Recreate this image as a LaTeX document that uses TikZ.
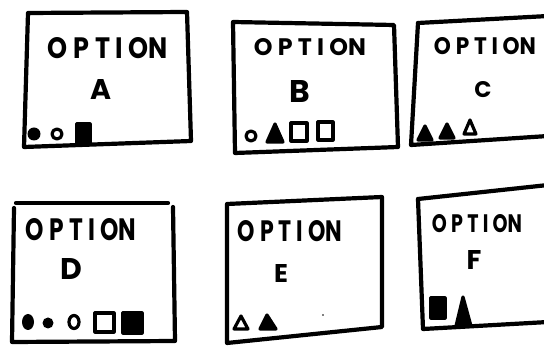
\documentclass[tikz,border=0pt]{standalone}
\usepackage{fontspec}
\setmainfont{Poppins}
\newcommand{\optw}[2]{\resizebox{#1pt}{#2pt}{\addfontfeatures{LetterSpace=22}\bfseries OPTIO\kern-0.0em N}}
\newcommand{\letw}[2]{\resizebox{!}{#1pt}{\bfseries #2}}
\begin{document}
\begin{tikzpicture}[x=1pt,y=-1pt,
  frame/.style={line width=4.2pt,line join=round,line cap=round},
  lbl/.style={inner sep=0pt},
  sym/.style={line width=3.2pt,line join=round},
  fsym/.style={sym,fill=black}]
\useasboundingbox (0,0) rectangle (544,347);
% Box A
\draw[frame] (28,13) -- (187,12) -- (191,141) -- (24,147) -- cycle;
\node[lbl] (oa) at (108,48) {\optw{120}{21}};
\node[lbl] (la) at (101,90) {\letw{20}{A}};
\fill (34,134) circle (6.5);
\draw[sym] (57,134) circle (5);
\draw[fsym] (77,124) rectangle (90,143);
% Box B
\draw[frame] (233,22) -- (394,25) -- (398,147) -- (235,153) -- cycle;
\node[lbl] (ob) at (310,47) {\optw{112}{17}};
\node[lbl] (lb) at (300,92) {\letw{22}{B}};
\draw[sym] (251,136) circle (5);
\draw[fsym] (267,142) -- (275,124) -- (283,142) -- cycle;
\draw[sym] (291,123) rectangle (307,141);
\draw[sym] (318,122) rectangle (333,140);
% Box C
\draw[frame] (418,23) -- (548,16);
\draw[frame] (418,23) -- (411,145) -- (548,136);
\node[lbl] (oc) at (485,46) {\optw{102}{17}};
\node[lbl] (lc) at (483,90) {\letw{16}{C}};
\draw[fsym] (418,140) -- (425,126) -- (432,140) -- cycle;
\draw[fsym] (440,138) -- (447,124) -- (454,138) -- cycle;
\draw[sym] (464,134) -- (470,120) -- (476,134) -- cycle;
% Box D
\draw[frame] (16,203) -- (168,203);
\draw[frame] (14,208) -- (12,342) -- (175,341) -- (173,207);
\node[lbl] (od) at (81,230) {\optw{110}{22}};
\node[lbl] (ld) at (71,269) {\letw{21}{D}};
\fill (28,322) ellipse (6 and 8);
\fill (48,323) circle (5.5);
\draw[sym] (74,322) ellipse (5 and 6.5);
\draw[sym] (95,313) rectangle (114,332);
\draw[fsym] (123,313) rectangle (142,333);
% Box E
\draw[frame] (227,204) -- (382,197) -- (382,327) -- (227,343) -- cycle;
\node[lbl] (oe) at (290,231) {\optw{104}{21}};
\node[lbl] (le) at (281,274) {\letw{18}{E}};
\draw[sym] (234,329) -- (241,316) -- (248,329) -- cycle;
\draw[fsym] (260,329) -- (267,315) -- (276,329) -- cycle;
\fill (323,315) circle (0.9);
% Box F
\draw[frame] (418,199) -- (548,185);
\draw[frame] (418,199) -- (423,329) -- (548,322);
\node[lbl] (of) at (477,224) {\optw{90}{18}};
\node[lbl] (lf) at (474,260) {\letw{19}{F}};
\draw[fsym] (431,298) rectangle (445,318);
\draw[fsym] (456,326) -- (463,297) -- (471,326) -- cycle;
\end{tikzpicture}
\end{document}
